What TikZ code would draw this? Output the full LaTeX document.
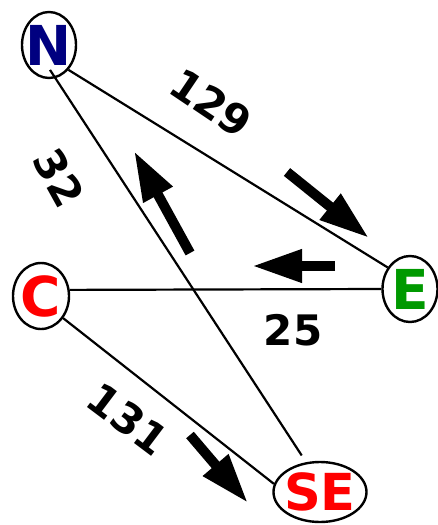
\documentclass[tikz,border=0pt]{standalone}
\usepackage{fontspec}
\setmainfont{DejaVu Sans}
\usetikzlibrary{shapes.geometric,arrows.meta}

\definecolor{navy}{RGB}{0,0,128}
\definecolor{leafgreen}{RGB}{0,153,0}
\newcommand\townname[1]{\makebox[0pt]{#1}}

\tikzset{
  town/.style={ellipse,draw,line width=2.4pt,inner sep=0pt,
    font=\bfseries\fontsize{55}{55}\selectfont},
  road/.style={line width=2.2pt},
  flow/.style={line width=10pt,-{Triangle[length=50pt,width=31pt]}},
  dist/.style={font=\bfseries\fontsize{42}{42}\selectfont}
}

\begin{document}
\begin{tikzpicture}[x=1pt,y=-1pt]
        \useasboundingbox (0,0) rectangle (438,525);
        \node[town,minimum width=54pt,minimum height=66pt,text=navy] (N) at (49,45) {\townname{N}};
        \node[town,minimum width=55pt,minimum height=66pt,text=leafgreen] (E) at (410,289) {\townname{E}};
        \node[town,minimum width=56pt,minimum height=66pt,text=red] (C) at (41,296) {\townname{C}};
        \node[town,minimum width=93pt,minimum height=60pt,text=red,font=\bfseries\fontsize{51}{51}\selectfont] (SE) at (320,492) {\townname{SE}};

        \draw[road] (N.-52) -- (E.136);
        \draw[road] (C.12) -- (E.west);
        \draw[road,shorten <=-10pt,shorten >=8pt] (N.-79) -- (SE.115);
        \draw[road] (C.-45) -- (SE.170);

        \node[dist,rotate=-34] (d129) at (211,103) {129};
        \node[dist] (d25) at (293,330) {25};
        \node[dist,rotate=-61] (d32) at (59,178) {32};
        \node[dist,rotate=-37] (d131) at (128,419) {131};

        \draw[flow] (287,172) -- (369,238);
        \draw[flow] (335,266) -- (252,266);
        \draw[flow] (190,253) -- (134,151);
        \draw[flow] (190,435) -- (248,503);
\end{tikzpicture}
\end{document}
